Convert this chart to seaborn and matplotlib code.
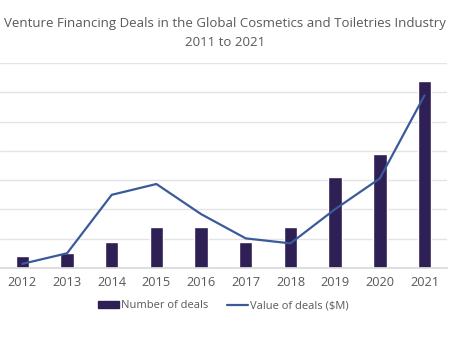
import matplotlib
matplotlib.use("Agg")
import matplotlib.pyplot as plt
import seaborn as sns
import pandas as pd

years = ["2012", "2013", "2014", "2015", "2016", "2017", "2018", "2019", "2020", "2021"]
num_deals = [4, 5, 9, 14, 14, 9, 14, 31, 39, 64]
value_deals = [14, 50, 250, 287, 184, 101, 84, 201, 306, 590]

df = pd.DataFrame({"year": years, "deals": num_deals, "value": value_deals})

sns.set_theme(style="white")
plt.rcParams["font.family"] = ["Open Sans", "DejaVu Sans"]

fig = plt.figure(figsize=(4.5, 3.4), dpi=100)
ax = fig.add_axes([0.0, 0.212, 0.993, 0.602])

bar_color = "#2e1f54"
line_color = "#3a5a9a"
text_color = "#595959"

sns.barplot(data=df, x="year", y="deals", color=bar_color, width=0.3,
            saturation=1, ax=ax, zorder=2)
ax.set_ylim(0, 70)
ax.set_yticks(range(0, 71, 10))
ax.yaxis.grid(True, color="#e4e4e4", linewidth=1)
ax.set_axisbelow(True)
ax.set_yticklabels([])
ax.tick_params(axis="y", length=0)
ax.tick_params(axis="x", length=0, colors=text_color, labelsize=9.2, pad=6)
ax.set_xlabel("")
ax.set_ylabel("")
for s in ax.spines.values():
    s.set_visible(False)
ax.spines["bottom"].set_visible(True)
ax.spines["bottom"].set_color("#d9d9d9")

ax2 = ax.twinx()
sns.lineplot(data=df, x="year", y="value", color=line_color, linewidth=1.6,
             ax=ax2, sort=False)
ax2.set_ylim(0, 700)
ax2.set_yticks([])
ax2.set_ylabel("")
for s in ax2.spines.values():
    s.set_visible(False)
ax.set_xlim(-0.5, 9.5)

from matplotlib.patches import Patch
from matplotlib.lines import Line2D
handles = [Patch(color=bar_color, label="Number of deals"),
           Line2D([0], [0], color=line_color, linewidth=1.6, label="Value of deals ($M)")]
fig.legend(handles=handles, loc="center", bbox_to_anchor=(0.496, 0.1),
           ncol=2, frameon=False, fontsize=8.0, labelcolor=text_color,
           handlelength=1.9, handletextpad=0.15, columnspacing=1.7,
           handleheight=0.6)

fig.text(0.5, 0.930, "Venture Financing Deals in the Global Cosmetics and Toiletries Industry",
         ha="center", va="center", fontsize=9.5, color=text_color)
fig.text(0.5, 0.874, "2011 to 2021", ha="center", va="center", fontsize=9.5, color=text_color)

fig.savefig("out.png", dpi=100, facecolor="white")
